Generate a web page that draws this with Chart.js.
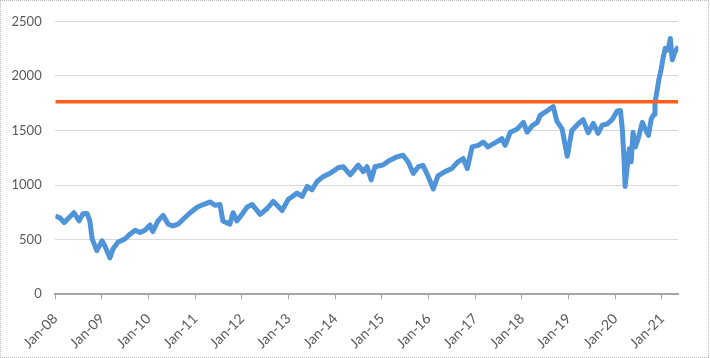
<!DOCTYPE html>
<html>
<head>
<meta charset="utf-8">
<script src="https://cdn.jsdelivr.net/npm/chart.js@4/dist/chart.umd.min.js"></script>
<style>
  html, body { margin: 0; padding: 0; background: #fff; }
  #wrap { position: relative; width: 710px; height: 358px; }
  #frame { position: absolute; left: 0; top: 0; width: 709px; height: 358px; box-sizing: border-box; border: 1px dotted #b8b8b8; pointer-events: none; }
  canvas { display: block; }
</style>
</head>
<body>
<div id="wrap">
  <canvas id="c" width="710" height="358"></canvas>
  <div id="frame"></div>
</div>
<script>
// Time as decimal year, value of the index
const times = [
  2008.00, 2008.10, 2008.19, 2008.27, 2008.40, 2008.51, 2008.59, 2008.68, 2008.74, 2008.79,
  2008.89, 2009.00, 2009.06, 2009.17, 2009.24, 2009.34, 2009.49, 2009.60, 2009.71, 2009.82,
  2009.92, 2010.03, 2010.09, 2010.20, 2010.31, 2010.42, 2010.52, 2010.63, 2010.74, 2010.89,
  2011.04, 2011.17, 2011.32, 2011.42, 2011.53, 2011.59, 2011.74, 2011.81, 2011.89, 2012.00,
  2012.11, 2012.22, 2012.39, 2012.54, 2012.67, 2012.86, 2012.99, 2013.18, 2013.29, 2013.40,
  2013.50, 2013.61, 2013.74, 2013.89, 2014.06, 2014.17, 2014.32, 2014.49, 2014.60, 2014.68,
  2014.77, 2014.85, 2015.02, 2015.17, 2015.32, 2015.45, 2015.56, 2015.67, 2015.78, 2015.88,
  2015.99, 2016.10, 2016.20, 2016.35, 2016.50, 2016.63, 2016.74, 2016.83, 2016.93, 2017.06,
  2017.17, 2017.27, 2017.42, 2017.57, 2017.64, 2017.75, 2017.90, 2018.03, 2018.11, 2018.22,
  2018.33, 2018.39, 2018.54, 2018.67, 2018.75, 2018.86, 2018.97, 2019.07, 2019.20, 2019.31,
  2019.42, 2019.53, 2019.63, 2019.72, 2019.83, 2019.94, 2020.04, 2020.11, 2020.15, 2020.19,
  2020.21, 2020.26, 2020.30, 2020.34, 2020.38, 2020.43, 2020.49, 2020.58, 2020.64, 2020.71,
  2020.77, 2020.83, 2020.85, 2020.90, 2020.94, 2020.98, 2021.03, 2021.07, 2021.13, 2021.18,
  2021.22, 2021.28, 2021.35
];
const values = [
  717, 700, 656, 692, 747, 672, 737, 741, 672, 508,
  400, 490, 445, 334, 418, 476, 506, 551, 587, 566,
  587, 635, 575, 672, 723, 642, 626, 642, 687, 747,
  798, 822, 846, 816, 822, 672, 642, 747, 672, 732,
  800, 822, 732, 786, 852, 768, 868, 927, 897, 988,
  958, 1033, 1078, 1108, 1160, 1169, 1094, 1184, 1124, 1169,
  1048, 1169, 1184, 1229, 1259, 1274, 1214, 1108, 1169, 1180,
  1080, 965, 1085, 1124, 1153, 1214, 1244, 1153, 1350, 1365,
  1395, 1350, 1388, 1425, 1365, 1485, 1515, 1575, 1485, 1545,
  1575, 1640, 1681, 1720, 1585, 1515, 1265, 1500, 1560, 1600,
  1480, 1565, 1475, 1550, 1560, 1605, 1680, 1683, 1515, 1214,
  988, 1184, 1334, 1214, 1485, 1350, 1425, 1575, 1515, 1455,
  1605, 1650, 1756, 1877, 1982, 2057, 2178, 2253, 2238, 2344,
  2148, 2223, 2268
];
const thresholdValue = 1765;
const tickYears = [2008, 2009, 2010, 2011, 2012, 2013, 2014, 2015, 2016, 2017, 2018, 2019, 2020, 2021];
const tickLabels = ['Jan-08', 'Jan-09', 'Jan-10', 'Jan-11', 'Jan-12', 'Jan-13', 'Jan-14',
                    'Jan-15', 'Jan-16', 'Jan-17', 'Jan-18', 'Jan-19', 'Jan-20', 'Jan-21'];
const yTicks = [0, 500, 1000, 1500, 2000, 2500];

const xMin = times[0];
const xMax = times[times.length - 1];

const seriesPoints = times.map((t, i) => ({ x: t, y: values[i] }));
const thresholdPoints = [{ x: xMin, y: thresholdValue }, { x: xMax, y: thresholdValue }];

const textColor = '#595959';
const family = 'Lato, "Open Sans", sans-serif';

new Chart(document.getElementById('c'), {
  type: 'line',
  data: {
    datasets: [
      {
        data: seriesPoints,
        borderColor: '#4F93D8',
        borderWidth: 5,
        pointRadius: 0,
        tension: 0,
        order: 1,
        borderJoinStyle: 'round'
      },
      {
        data: thresholdPoints,
        borderColor: '#FF5E1F',
        borderWidth: 3.5,
        pointRadius: 0,
        order: 0
      }
    ]
  },
  options: {
    responsive: false,
    animation: false,
    events: [],
    layout: { padding: { left: 0, right: 31.7, top: 17.7, bottom: 0 } },
    plugins: { legend: { display: false }, tooltip: { enabled: false } },
    scales: {
      x: {
        type: 'linear',
        min: xMin,
        max: xMax,
        afterBuildTicks: s => { s.ticks = tickYears.map(v => ({ value: v })); },
        afterFit: s => { s.height = 63.7; },
        grid: { drawOnChartArea: false, drawTicks: true, tickLength: 5, color: '#a6a6a6' },
        border: { display: true, color: '#a6a6a6', width: 2 },
        ticks: {
          autoSkip: false,
          minRotation: 45,
          maxRotation: 45,
          padding: 11,
          color: textColor,
          font: { family: family, size: 14 },
          callback: (v) => { const i = tickYears.indexOf(v); return i >= 0 ? tickLabels[i] : ''; }
        }
      },
      y: {
        min: 0,
        max: 2500,
        afterBuildTicks: s => { s.ticks = yTicks.map(v => ({ value: v })); },
        afterFit: s => { s.width = 55.3; },
        grid: { color: '#d9d9d9', drawTicks: false, lineWidth: 1 },
        border: { display: false },
        ticks: {
          padding: 13.6,
          color: textColor,
          font: { family: family, size: 13 },
          callback: (v) => String(v)
        }
      }
    }
  }
});
</script>
</body>
</html>
